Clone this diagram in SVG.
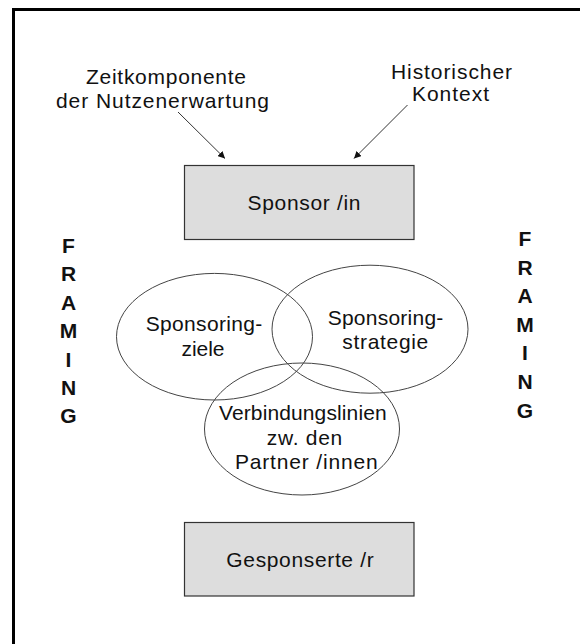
<svg xmlns="http://www.w3.org/2000/svg" width="580" height="644" viewBox="0 0 580 644">
<style>
  .lbl{font-family:"Liberation Sans",Arial,sans-serif;font-size:21px;fill:#111;text-anchor:middle}
  .frm{font-family:"Liberation Sans",Arial,sans-serif;font-size:21px;font-weight:bold;fill:#111;text-anchor:middle}
  .box{fill:#dddddd;stroke:#333;stroke-width:1.2}
  .ell{fill:none;stroke:#444;stroke-width:1}
  .con{stroke:#333;stroke-width:1;fill:none}
</style>
<defs>
  <marker id="ah" viewBox="0 0 10 10" refX="10" refY="5" markerWidth="7" markerHeight="7" markerUnits="userSpaceOnUse" orient="auto">
    <path d="M0,0 L10,5 L0,10 z" fill="#111"/>
  </marker>
</defs>
<rect width="580" height="644" fill="#fff"/>
<g id="frame">
  <line x1="12" y1="9.5" x2="580" y2="9.5" stroke="#000" stroke-width="3"/>
  <line x1="13.5" y1="8" x2="13.5" y2="644" stroke="#000" stroke-width="3"/>
</g>
<g id="zeitkomponente">
  <text class="lbl" x="166" y="84" textLength="160" lengthAdjust="spacing">Zeitkomponente</text>
  <text class="lbl" x="162.5" y="108" textLength="213" lengthAdjust="spacing">der Nutzenerwartung</text>
</g>
<g id="historischer-kontext">
  <text class="lbl" x="451.5" y="79" textLength="121" lengthAdjust="spacing">Historischer</text>
  <text class="lbl" x="450.5" y="101" textLength="77" lengthAdjust="spacing">Kontext</text>
</g>
<g id="connectors">
  <line class="con" x1="178" y1="112" x2="225" y2="158.5" marker-end="url(#ah)"/>
  <line class="con" x1="407.5" y1="105" x2="354" y2="158.5" marker-end="url(#ah)"/>
</g>
<g id="sponsor">
  <rect class="box" x="184.5" y="165.5" width="229.5" height="74"/>
  <text class="lbl" x="304" y="210" textLength="113" lengthAdjust="spacing">Sponsor /in</text>
</g>
<g id="framing-left">
  <text class="frm" x="68.5" y="252.7">F</text>
  <text class="frm" x="68.5" y="281.2">R</text>
  <text class="frm" x="68.5" y="309.6">A</text>
  <text class="frm" x="68.5" y="338.1">M</text>
  <text class="frm" x="68.5" y="366.5">I</text>
  <text class="frm" x="68.5" y="395">N</text>
  <text class="frm" x="68.5" y="423.4">G</text>
</g>
<g id="framing-right">
  <text class="frm" x="525" y="246">F</text>
  <text class="frm" x="525" y="274.6">R</text>
  <text class="frm" x="525" y="303.2">A</text>
  <text class="frm" x="525" y="331.8">M</text>
  <text class="frm" x="525" y="360.4">I</text>
  <text class="frm" x="525" y="389">N</text>
  <text class="frm" x="525" y="417.6">G</text>
</g>
<g id="sponsoringziele">
  <ellipse class="ell" cx="214.5" cy="336.7" rx="98" ry="63.3"/>
  <text class="lbl" x="204" y="330.7" textLength="116.6" lengthAdjust="spacing">Sponsoring-</text>
  <text class="lbl" x="203" y="355.7" textLength="43" lengthAdjust="spacing">ziele</text>
</g>
<g id="sponsoringstrategie">
  <ellipse class="ell" cx="370" cy="329.2" rx="98" ry="64"/>
  <text class="lbl" x="385.5" y="325" textLength="115.6" lengthAdjust="spacing">Sponsoring-</text>
  <text class="lbl" x="385.3" y="348.5" textLength="86" lengthAdjust="spacing">strategie</text>
</g>
<g id="verbindungslinien">
  <ellipse class="ell" cx="302" cy="429" rx="97.5" ry="66"/>
  <text class="lbl" x="302.8" y="420" textLength="167.7" lengthAdjust="spacing">Verbindungslinien</text>
  <text class="lbl" x="304.5" y="444.5" textLength="75.6" lengthAdjust="spacing">zw. den</text>
  <text class="lbl" x="306.3" y="468.5" textLength="142.7" lengthAdjust="spacing">Partner /innen</text>
</g>
<g id="gesponserte">
  <rect class="box" x="184.5" y="522.5" width="229.5" height="73.5"/>
  <text class="lbl" x="300" y="566.7" textLength="147.3" lengthAdjust="spacing">Gesponserte /r</text>
</g>
</svg>
